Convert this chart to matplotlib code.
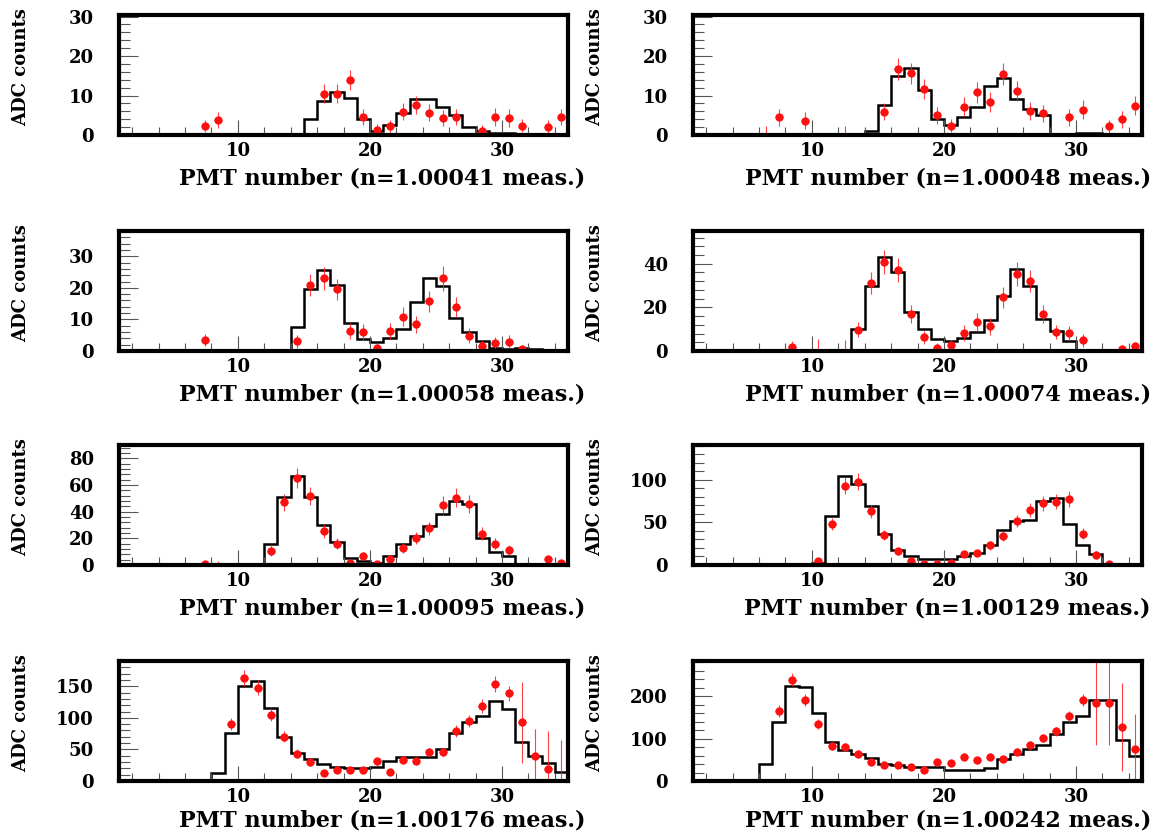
import matplotlib
matplotlib.use("Agg")
import matplotlib.pyplot as plt
import numpy as np
from matplotlib.ticker import MultipleLocator, AutoMinorLocator

plt.rcParams["font.family"] = ["DejaVu Serif"]
plt.rcParams["font.weight"] = "bold"
plt.rcParams["axes.labelweight"] = "bold"

# PMT bins 1..34, edges at integers
edges = np.arange(1, 36)

n_values = ["1.00041", "1.00048", "1.00058", "1.00074",
            "1.00095", "1.00129", "1.00176", "1.00242"]

# simulated ring response (one value per PMT bin)
sim_041 = [0, 0, 0, 0, 0, 0, 0, 0, 0, 0, 0, 0, 0, 0, 4, 8.5, 11, 9.5, 4, 1,
           2.5, 5.5, 9, 9, 7, 5, 2, 1, 0.5, 0.5, 0.3, 0, 0, 0]
sim_048 = [0, 0, 0, 0, 0, 0, 0, 0.3, 0.3, 0, 0, 0, 0, 1, 7.5, 15, 17, 11.5, 4, 2.5,
           4.5, 7, 12.5, 14.5, 9, 6.5, 5, 0, 0, 0.5, 0.5, 0.3, 0, 0]
sim_058 = [0, 0, 0, 0, 0, 0, 0.3, 0.3, 0.3, 0.3, 0, 0, 0, 7.5, 19.5, 25.5, 21, 9, 3.8, 3,
           4, 7, 15.5, 23, 20.5, 10.5, 6, 3.3, 1, 0.5, 0.8, 0.5, 0, 0]
sim_074 = [0, 0, 0, 0, 0.3, 0.3, 0.3, 0.3, 0.3, 0.3, 0.3, 0.3, 10, 30, 43, 36, 18, 10, 5.5, 4.5,
           6, 8.5, 14, 25, 37.5, 30, 14.5, 9, 4.5, 0, 0.5, 0.5, 0.5, 0.5]
sim_095 = [0, 0, 0, 0, 0, 0, 0, 0, 0, 0, 0.5, 16, 51, 67, 51, 30, 17, 5.5, 3, 1.5,
           7, 15.5, 22, 29, 38.5, 48, 46, 20.5, 9.5, 7, 0, 0, 0.5, 0.5]
sim_129 = [0, 0, 0, 0, 0, 0, 0, 0, 0, 2, 58, 104, 95, 69, 37, 18, 11, 7.5, 7.5, 7.5,
           11, 14.5, 24, 41, 52, 53, 75, 79, 48, 23, 13, 0.5, 0.5, 0.5]
sim_176 = [0, 0, 0, 0, 0, 0, 0, 12, 76, 150, 158, 116, 69, 44, 35, 27, 22, 20, 20, 22,
           32, 38, 38, 38, 51, 76, 93, 103, 126, 114, 62, 39, 29, 14]
sim_242 = [0, 0, 0, 0, 1, 40, 140, 225, 221, 160, 92, 72, 64, 54, 40, 38, 34, 34, 33, 25,
           25, 25, 30, 52, 64, 75, 84, 110, 139, 153, 190, 190, 97, 60]

# measured ADC counts: PMT centre, counts, error
pmt_041 = [7.5, 8.5, 16.5, 17.5, 18.5, 19.5, 20.5, 21.5, 22.5, 23.5, 24.5, 25.5, 26.5,
           28.5, 29.5, 30.5, 31.5, 33.5, 34.5]
adc_041 = [2.2, 3.9, 10.5, 10.5, 14.0, 4.5, 1.3, 2.2, 5.9, 7.6, 5.7, 4.3, 4.5,
           1.1, 4.6, 4.3, 2.4, 2.1, 4.5]
err_041 = [1.5, 2.0, 2.3, 2.5, 2.5, 2.0, 1.5, 1.6, 2.2, 2.3, 2.2, 2.0, 2.0,
           1.5, 2.2, 2.2, 1.7, 1.6, 2.0]

pmt_048 = [6.5, 7.5, 9.5, 12.5, 15.5, 16.5, 17.5, 18.5, 19.5, 20.5, 21.5, 22.5, 23.5,
           24.5, 25.5, 26.5, 27.5, 29.5, 30.5, 32.5, 33.5, 34.5]
adc_048 = [0, 4.5, 3.6, 0, 5.9, 16.8, 15.6, 11.6, 5.0, 2.4, 7.2, 10.8, 8.4,
           15.4, 11.1, 6.1, 5.5, 4.5, 6.4, 2.2, 4.0, 7.4]
err_048 = [2.3, 2.2, 2.2, 2.3, 2.2, 2.8, 2.6, 2.5, 2.2, 1.6, 2.4, 2.6, 2.5,
           2.8, 2.5, 2.3, 2.2, 2.2, 2.4, 1.7, 2.1, 2.4]

pmt_058 = [7.5, 14.5, 15.5, 16.5, 17.5, 18.5, 19.5, 20.5, 21.5, 22.5, 23.5, 24.5, 25.5,
           26.5, 27.5, 28.5, 29.5, 30.5, 31.5]
adc_058 = [3.5, 3.1, 21.0, 23.0, 19.5, 6.3, 6.0, 1.1, 6.3, 10.9, 8.4, 15.8, 23.0,
           13.9, 4.9, 1.6, 2.5, 3.0, 0.5]
err_058 = [2.0, 2.0, 3.5, 3.7, 3.4, 2.5, 2.5, 1.5, 2.5, 3.0, 2.8, 3.3, 4.0,
           3.2, 2.3, 1.8, 2.0, 2.0, 1.5]

pmt_074 = [8.5, 10.5, 12.5, 13.5, 14.5, 15.5, 16.5, 17.5, 18.5, 19.5, 20.5, 21.5, 22.5,
           23.5, 24.5, 25.5, 26.5, 27.5, 28.5, 29.5, 30.5, 33.5, 34.5]
adc_074 = [1.9, 0, 0, 9.8, 31, 41, 37, 17, 6.3, 1.6, 2.7, 8.2, 13.2,
           11.3, 24.7, 35.4, 32, 16.9, 8.7, 8.2, 5.0, 1.1, 2.2]
err_074 = [2.5, 5.5, 5.0, 3.5, 5.0, 5.5, 5.5, 4.0, 3.0, 2.0, 2.5, 3.5, 4.0,
           3.8, 4.8, 5.5, 5.0, 4.0, 3.3, 3.3, 3.0, 1.5, 2.0]

pmt_095 = [7.5, 8.5, 12.5, 13.5, 14.5, 15.5, 16.5, 17.5, 18.5, 19.5, 20.5, 21.5, 22.5,
           23.5, 24.5, 25.5, 26.5, 27.5, 28.5, 29.5, 30.5, 33.5, 34.5]
adc_095 = [1.0, 0, 10.8, 47, 65, 52, 25.4, 15.9, 1.8, 7.0, 1.0, 4.4, 12.8,
           20.3, 27.4, 45, 50.5, 46, 23.6, 16, 11.3, 4.4, 1.8]
err_095 = [2.0, 3.0, 4.0, 6.5, 7.5, 6.8, 5.0, 4.0, 2.0, 3.0, 1.5, 2.5, 4.0,
           4.5, 5.0, 6.5, 7.0, 6.8, 5.0, 4.0, 3.5, 2.5, 2.0]

pmt_129 = [10.5, 11.5, 12.5, 13.5, 14.5, 15.5, 16.5, 17.5, 18.5, 19.5, 20.5, 21.5, 22.5,
           23.5, 24.5, 25.5, 26.5, 27.5, 28.5, 29.5, 30.5, 31.5, 32.5]
adc_129 = [5, 48.5, 93, 98, 63, 35.5, 16, 5, 1, 1, 2, 13, 14,
           23, 34, 51.5, 64.5, 72.5, 74.5, 77.5, 37, 12, 1]
err_129 = [3, 7, 10, 10, 8, 6, 4.5, 3, 2, 2, 2.5, 4, 4,
           5, 6, 7, 8, 8.5, 8.5, 9, 6.5, 4, 2]

pmt_176 = [9.5, 10.5, 11.5, 12.5, 13.5, 14.5, 15.5, 16.5, 17.5, 18.5, 19.5, 20.5, 21.5,
           22.5, 23.5, 24.5, 25.5, 26.5, 27.5, 28.5, 29.5, 30.5, 31.5, 32.5, 33.5, 34.5]
adc_176 = [90, 163, 148, 105, 70, 43, 30, 12.5, 17, 17, 17, 31, 14,
           34, 31, 46, 46, 79, 95, 119, 154, 139, 93, 39, 19, 0]
err_176 = [10, 13, 12, 10, 8.5, 7, 5.5, 4, 4.5, 4.5, 4.5, 5.5, 4,
           6, 5.5, 7, 7, 9, 10, 11, 13, 12, 64, 43, 60, 65]

pmt_242 = [7.5, 8.5, 9.5, 10.5, 11.5, 12.5, 13.5, 14.5, 15.5, 16.5, 17.5, 18.5, 19.5, 20.5,
           21.5, 22.5, 23.5, 24.5, 25.5, 26.5, 27.5, 28.5, 29.5, 30.5, 31.5, 32.5, 33.5, 34.5]
adc_242 = [165, 239, 190, 134, 82, 80, 63, 44, 38, 38, 33, 27, 44, 42,
           57, 50, 57, 52, 69, 86, 102, 117, 153, 192, 184, 184, 127, 75]
err_242 = [14, 15, 14, 12, 9, 9, 8, 7, 6, 6, 6, 5.5, 7, 7,
           8, 7, 8, 7.5, 8.5, 9.5, 10, 11, 13, 14, 99, 99, 103, 83]

panels = [
    (sim_041, pmt_041, adc_041, err_041),
    (sim_048, pmt_048, adc_048, err_048),
    (sim_058, pmt_058, adc_058, err_058),
    (sim_074, pmt_074, adc_074, err_074),
    (sim_095, pmt_095, adc_095, err_095),
    (sim_129, pmt_129, adc_129, err_129),
    (sim_176, pmt_176, adc_176, err_176),
    (sim_242, pmt_242, adc_242, err_242),
]
y_top = [30.4, 30.4, 38, 55, 90, 141, 190, 283]
y_step = [10, 10, 10, 20, 20, 50, 50, 100]

W, H = 1155, 832
fig = plt.figure(figsize=(W / 100, H / 100), dpi=100)

col_left = [119, 693]
row_top = [15, 231, 445, 661]
box_w, box_h = 449, 120
# x title ends just past the frame; right column is pulled in to stay on the page
title_right = [1.038, 1.020]


def draw_panel(ax, sim, pmt, adc, err, n_text, ymax, ystep, xr, xy):
    pmt = np.asarray(pmt)
    adc = np.asarray(adc)
    ax.stairs(sim, edges, color="black", lw=1.8, baseline=0)
    ax.errorbar(pmt, adc, yerr=err, xerr=0.3, fmt="none", ecolor="#ff2020",
                elinewidth=0.8, alpha=0.85)
    hit = adc > 0
    ax.plot(pmt[hit], adc[hit], "o", color="#ff1010", ms=6, mew=0)

    ax.set_xlim(1, 35)
    ax.set_ylim(0, ymax)
    ax.xaxis.set_major_locator(MultipleLocator(10))
    ax.xaxis.set_minor_locator(MultipleLocator(2))
    ax.yaxis.set_major_locator(MultipleLocator(ystep))
    ax.yaxis.set_minor_locator(AutoMinorLocator(5))

    ax.tick_params(axis="x", which="major", direction="in", length=11, width=0.8,
                   color="#555555", labelsize=13, pad=5, top=False)
    ax.tick_params(axis="x", which="minor", direction="in", length=6, width=0.8,
                   color="#555555", top=False)
    ax.tick_params(axis="y", which="major", direction="in", length=14, width=0.8,
                   color="#555555", labelsize=13, pad=18, right=False)
    ax.tick_params(axis="y", which="minor", direction="in", length=8, width=0.8,
                   color="#555555", right=False)
    for sp in ax.spines.values():
        sp.set_linewidth(3)
        sp.set_color("black")

    ax.set_xlabel("PMT number (n=%s meas.)" % n_text, fontsize=16,
                  ha="right", va="top")
    ax.xaxis.set_label_coords(xr, xy)
    ax.set_ylabel("ADC counts", fontsize=13, va="center")
    ax.yaxis.set_label_coords(-0.218, 0.57)


for i, (sim, pmt, adc, err) in enumerate(panels):
    row, col = divmod(i, 2)
    left = col_left[col] / W
    bottom = 1 - (row_top[row] + box_h) / H
    ax = fig.add_axes([left, bottom, box_w / W, box_h / H])
    # bottom row title is lifted a little so it stays inside the page
    xy = -0.27 if row < 3 else -0.24
    draw_panel(ax, sim, pmt, adc, err, n_values[i], y_top[i], y_step[i],
               title_right[col], xy)

fig.savefig("out.png", dpi=100)
